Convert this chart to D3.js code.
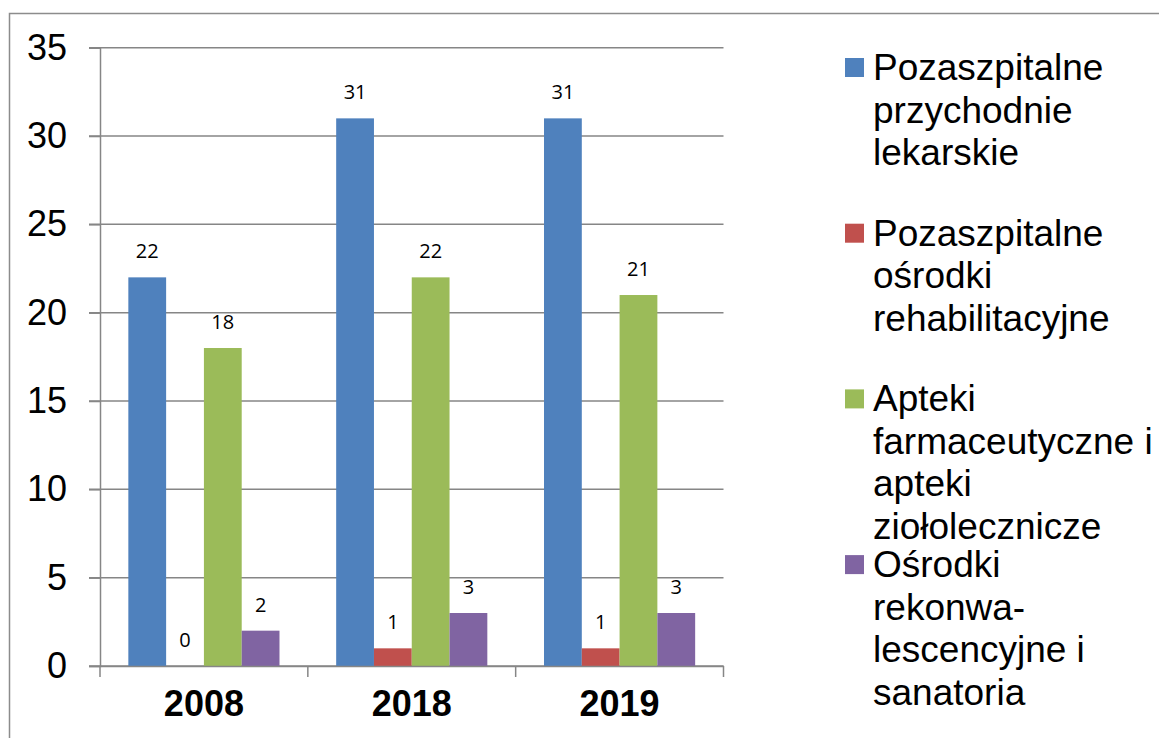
<!DOCTYPE html>
<html>
<head>
<meta charset="utf-8">
<script src="https://cdn.jsdelivr.net/npm/d3@7"></script>
<style>
  body { margin: 0; background: #fff; }
  svg { display: block; }
</style>
</head>
<body>
<script>
const years = ["2008", "2018", "2019"];
const seriesNames = [
  "Pozaszpitalne przychodnie lekarskie",
  "Pozaszpitalne ośrodki rehabilitacyjne",
  "Apteki farmaceutyczne i apteki ziołolecznicze",
  "Ośrodki rekonwa-lescencyjne i sanatoria"
];
const legendLines = [
  ["Pozaszpitalne", "przychodnie", "lekarskie"],
  ["Pozaszpitalne", "ośrodki", "rehabilitacyjne"],
  ["Apteki", "farmaceutyczne i", "apteki", "ziołolecznicze"],
  ["Ośrodki", "rekonwa-", "lescencyjne i", "sanatoria"]
];
const przychodnie = [22, 31, 31];
const rehabilitacja = [0, 1, 1];
const apteki = [18, 22, 21];
const sanatoria = [2, 3, 3];
const yTicks = [0, 5, 10, 15, 20, 25, 30, 35];

const values = [przychodnie, rehabilitacja, apteki, sanatoria];
const colors = ["#4F81BD", "#C0504D", "#9BBB59", "#8064A2"];

const w = 1159, h = 738;
const plotLeft = 100, plotRight = 723.5, plotTop = 47.7, plotBottom = 666;

const svg = d3.select("body").append("svg")
  .attr("width", w)
  .attr("height", h);

// outer frame
svg.append("rect")
  .attr("x", 9.5).attr("y", 13.5)
  .attr("width", w + 10).attr("height", h + 10)
  .attr("fill", "none")
  .attr("stroke", "#8c8c8c")
  .attr("stroke-width", 1.5);

const x = d3.scaleBand().domain(years).range([plotLeft, plotRight]).padding(0);
const sub = d3.scaleBand().domain(d3.range(4)).range([0, x.bandwidth()])
  .paddingInner(0).paddingOuter(0.75);
const y = d3.scaleLinear().domain([0, 35]).range([plotBottom, plotTop]);

// gridlines
svg.append("g").selectAll("line")
  .data(yTicks)
  .enter().append("line")
  .attr("x1", plotLeft - 11).attr("x2", plotRight)
  .attr("y1", d => y(d)).attr("y2", d => y(d))
  .attr("stroke", "#868686")
  .attr("stroke-width", 1.5);

// y axis
const yAxis = svg.append("g")
  .attr("transform", "translate(" + plotLeft + ",0)")
  .call(d3.axisLeft(y).tickValues(yTicks).tickSize(11).tickPadding(22));
yAxis.select(".domain").attr("stroke", "#868686").attr("stroke-width", 1.5);
yAxis.selectAll(".tick line").attr("stroke", "#868686").attr("stroke-width", 1.5);
yAxis.selectAll("text")
  .style("font-family", "'Liberation Sans', Arial, sans-serif")
  .style("font-size", "36px")
  .attr("fill", "#000");

// bars
years.forEach((yr, i) => {
  const g = svg.append("g");
  g.selectAll("rect")
    .data(values.map((s, k) => ({ k: k, v: s[i] })))
    .enter().append("rect")
    .attr("x", d => x(yr) + sub(d.k))
    .attr("y", d => y(d.v))
    .attr("width", sub.bandwidth())
    .attr("height", d => plotBottom - y(d.v))
    .attr("fill", d => colors[d.k]);
  g.selectAll("text")
    .data(values.map((s, k) => ({ k: k, v: s[i] })))
    .enter().append("text")
    .attr("x", d => x(yr) + sub(d.k) + sub.bandwidth() / 2)
    .attr("y", d => y(d.v) - 19)
    .attr("text-anchor", "middle")
    .style("font-family", "'Open Sans', sans-serif")
    .style("font-size", "20px")
    .text(d => d.v);
});

// x axis
const xAxis = svg.append("g")
  .attr("transform", "translate(0," + plotBottom + ")")
  .call(d3.axisBottom(x).tickSize(0).tickPadding(24));
xAxis.select(".domain").attr("stroke", "#868686").attr("stroke-width", 1.5);
xAxis.selectAll("text")
  .style("font-family", "'Liberation Sans', Arial, sans-serif")
  .style("font-size", "36px")
  .style("font-weight", "bold")
  .attr("fill", "#000");
xAxis.selectAll(".edge")
  .data(years.map(d => x(d)).concat([plotRight]))
  .enter().append("line")
  .attr("class", "edge")
  .attr("x1", d => d).attr("x2", d => d)
  .attr("y1", 0).attr("y2", 11)
  .attr("stroke", "#868686")
  .attr("stroke-width", 1.5);

// legend
const legend = svg.append("g").selectAll("g")
  .data(legendLines)
  .enter().append("g")
  .attr("transform", (d, i) => "translate(845," + (80 + i * 165.7) + ")");
legend.append("rect")
  .attr("x", 0).attr("y", -22)
  .attr("width", 19).attr("height", 19)
  .attr("fill", (d, i) => colors[i]);
legend.append("text")
  .style("font-family", "'Liberation Sans', Arial, sans-serif")
  .style("font-size", "37px")
  .selectAll("tspan")
  .data(d => d)
  .enter().append("tspan")
  .attr("x", 28)
  .attr("y", (d, j) => j * 42.5)
  .text(d => d);
</script>
</body>
</html>
